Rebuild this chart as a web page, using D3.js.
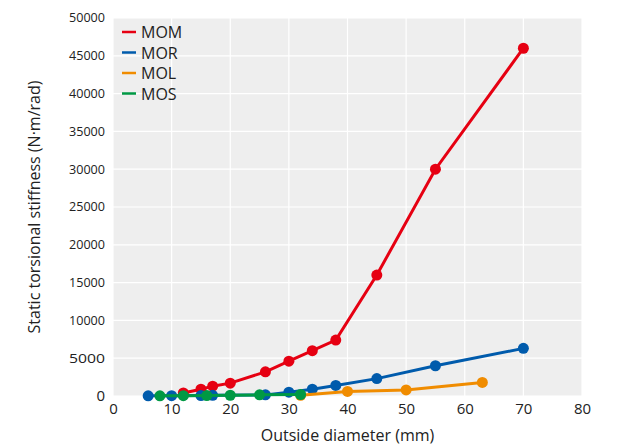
<!DOCTYPE html>
<html><head><meta charset="utf-8">
<script src="https://cdn.jsdelivr.net/npm/d3@7"></script>
<style>body{margin:0;background:#fff;font-family:"Open Sans",sans-serif}</style>
</head><body><div id="chart"></div>
<script>
const seriesNames = ["MOM", "MOR", "MOL", "MOS"];
const colors = ["#e60012", "#005bac", "#f08c00", "#009944"];
const momX = [12, 15, 17, 20, 26, 30, 34, 38, 45, 55, 70];
const momY = [400, 900, 1300, 1700, 3200, 4600, 6000, 7400, 16000, 30000, 46000];
const morX = [6, 10, 15, 17, 26, 30, 34, 38, 45, 55, 70];
const morY = [20, 40, 60, 90, 150, 500, 900, 1400, 2300, 4000, 6300];
const molX = [32, 40, 50, 63];
const molY = [100, 600, 800, 1800];
const mosX = [8, 12, 16, 20, 25, 32];
const mosY = [20, 40, 60, 100, 150, 200];
const xTicks = [0, 10, 20, 30, 40, 50, 60, 70, 80];
const yTicks = [0, 5000, 10000, 15000, 20000, 25000, 30000, 35000, 40000, 45000, 50000];

const series = [
  {x: momX, y: momY}, {x: morX, y: morY}, {x: molX, y: molY}, {x: mosX, y: mosY}
];

const width = 620, height = 446;
const m = {left: 113, right: 38, top: 18, bottom: 50};
const svg = d3.select("#chart").append("svg").attr("width", width).attr("height", height);

const x = d3.scaleLinear().domain([0, 80]).range([m.left, width - m.right]);
const y = d3.scaleLinear().domain([0, 50000]).range([height - m.bottom, m.top]);

svg.append("rect").attr("x", m.left).attr("y", m.top)
  .attr("width", x(80) - m.left).attr("height", y(0) - m.top).attr("fill", "#eeeeee");

svg.append("g").selectAll("line").data(xTicks).join("line")
  .attr("x1", d => x(d)).attr("x2", d => x(d)).attr("y1", m.top).attr("y2", y(0))
  .attr("stroke", "#fff").attr("stroke-width", 1.2);
svg.append("g").selectAll("line").data(yTicks).join("line")
  .attr("x1", m.left).attr("x2", x(80)).attr("y1", d => y(d)).attr("y2", d => y(d))
  .attr("stroke", "#fff").attr("stroke-width", 1.2);

const xAxis = svg.append("g").attr("transform", `translate(0,${y(0)})`)
  .call(d3.axisBottom(x).tickValues(xTicks).tickSize(0).tickPadding(7));
xAxis.select(".domain").remove();
xAxis.selectAll("text").attr("font-size", 15).attr("fill", "#222").attr("font-family", "Open Sans");

const yAxis = svg.append("g").attr("transform", `translate(${m.left - 8},0)`)
  .call(d3.axisLeft(y).tickValues(yTicks).tickSize(0).tickPadding(0).tickFormat(d3.format("d")));
yAxis.select(".domain").remove();
yAxis.selectAll(".tick text").attr("font-family", "Open Sans").attr("fill", "#222")
  .attr("font-size", d => d === 0 ? 15 : 12)
  .each(function(d) {
    if (d !== 0) d3.select(this).attr("textLength", 36).attr("lengthAdjust", "spacingAndGlyphs");
  });

svg.append("text").attr("x", x(40)).attr("y", height - 5).attr("text-anchor", "middle")
  .attr("font-size", 16).attr("fill", "#222").text("Outside diameter (mm)");
svg.append("text").attr("transform", `translate(40,${(m.top + y(0)) / 2}) rotate(-90)`)
  .attr("text-anchor", "middle").attr("font-size", 16).attr("fill", "#222")
  .text("Static torsional stiffness (N·m/rad)");

const line = d3.line().x(d => x(d[0])).y(d => y(d[1]));
series.forEach((s, i) => {
  const pts = s.x.map((v, j) => [v, s.y[j]]);
  svg.append("path").datum(pts).attr("d", line).attr("fill", "none")
    .attr("stroke", colors[i]).attr("stroke-width", 3);
  svg.append("g").selectAll("circle").data(pts).join("circle")
    .attr("cx", d => x(d[0])).attr("cy", d => y(d[1])).attr("r", 5.5).attr("fill", colors[i]);
});

const leg = svg.append("g");
seriesNames.forEach((s, i) => {
  const yy = 32 + i * 20.5;
  leg.append("line").attr("x1", 122).attr("x2", 136).attr("y1", yy).attr("y2", yy)
    .attr("stroke", colors[i]).attr("stroke-width", 2.5);
  leg.append("text").attr("x", 141).attr("y", yy + 6).attr("font-size", 16)
    .attr("fill", "#222").text(s);
});
</script></body></html>
